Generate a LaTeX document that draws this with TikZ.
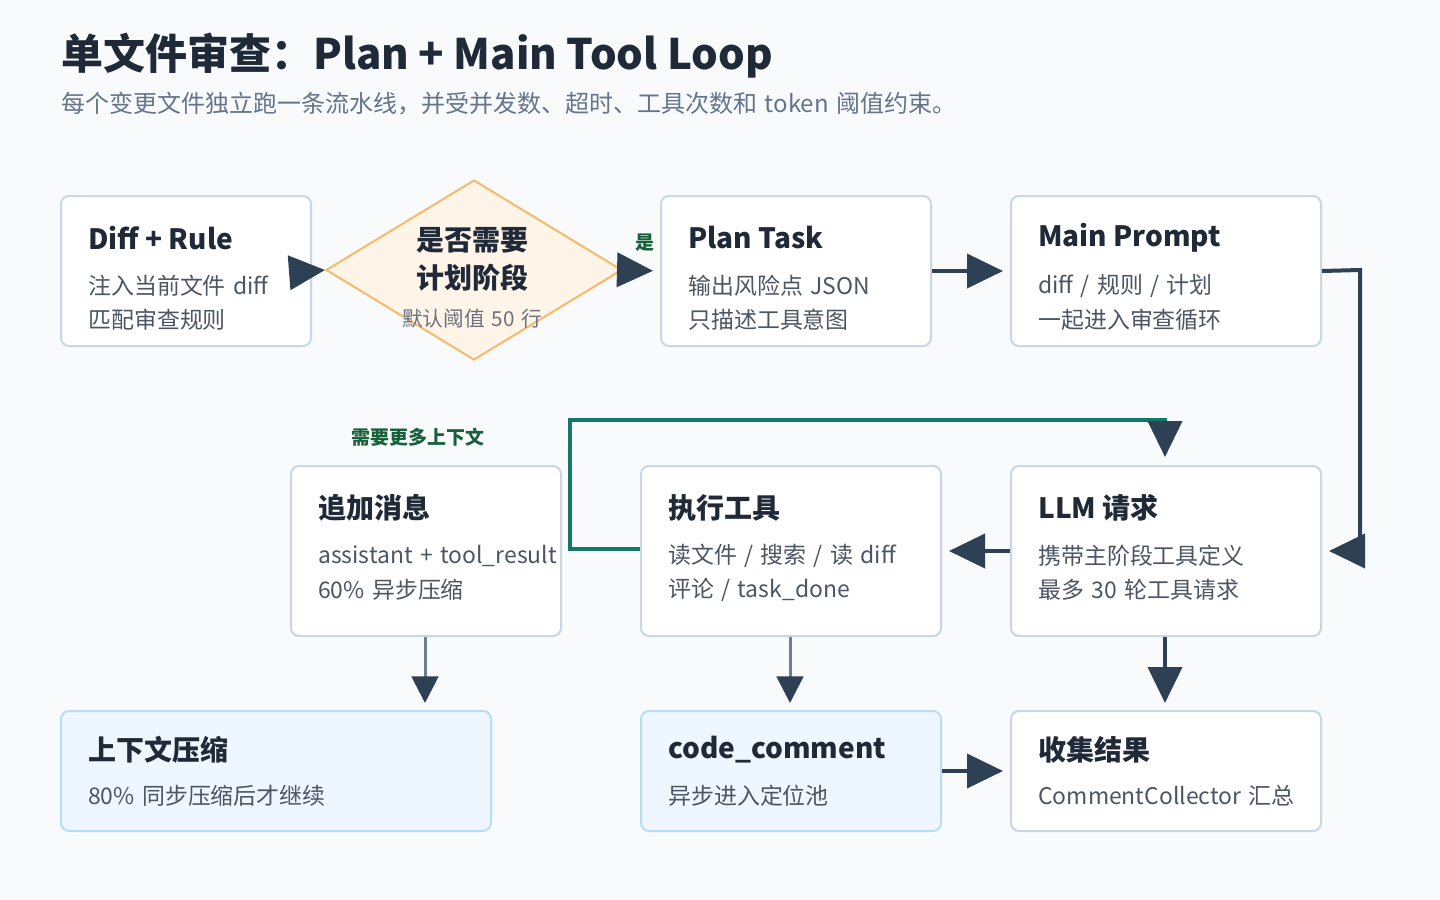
\documentclass[tikz,border=0pt]{standalone}
\usepackage{fontspec}
\setmainfont{Noto Sans CJK SC}
\usetikzlibrary{arrows.meta,shapes.geometric}
\definecolor{bgc}{HTML}{F8FAFC}
\definecolor{ttlc}{HTML}{1F2937}
\definecolor{bodyc}{HTML}{4B5563}
\definecolor{subc}{HTML}{64748B}
\definecolor{bordc}{HTML}{C9D6E4}
\definecolor{bluebord}{HTML}{B9DCF7}
\definecolor{bluefill}{HTML}{EEF6FF}
\definecolor{arrowc}{HTML}{2E4053}
\definecolor{thinc}{HTML}{6E7D92}
\definecolor{loopc}{HTML}{13786A}
\definecolor{lblc}{HTML}{17603A}
\definecolor{dfill}{HTML}{FFF4E8}
\definecolor{dbord}{HTML}{F7B96B}
\definecolor{dsub}{HTML}{6B7280}
\newcommand\widesp{\spaceskip 0.32em\relax}
\begin{document}
\begin{tikzpicture}[x=0.75pt,y=-0.75pt,
  box/.style={draw=bordc, line width=1.5pt, fill=white, rounded corners=6pt, inner sep=0pt, anchor=north west},
  hbox/.style={box, draw=bluebord, fill=bluefill},
  ttl/.style={anchor=west, inner sep=0pt, text=ttlc, font=\fontsize{21pt}{25pt}\selectfont\bfseries},
  bdy/.style={anchor=west, inner sep=0pt, text=bodyc, font=\fontsize{17.2pt}{20pt}\selectfont\widesp},
  flow/.style={draw=arrowc, line width=3pt, -{Triangle[length=27pt,width=25.5pt]}},
  thinflow/.style={draw=thinc, line width=2.25pt, -{Triangle[length=20pt,width=20pt,color=arrowc]}},
  lbl/.style={inner sep=0pt, text=lblc, font=\fontsize{14.2pt}{16pt}\selectfont\bfseries}
]
\fill[bgc] (0,0) rectangle (1440,900);
\useasboundingbox (0,0) rectangle (1440,900);

% title
\node[anchor=west, inner sep=0pt, text=ttlc, font=\fontsize{31.5pt}{36pt}\selectfont\bfseries] (title) at (61,56) {单文件审查：Plan + Main Tool Loop};
\node[anchor=west, inner sep=0pt, text=subc, font=\fontsize{18pt}{20pt}\selectfont\widesp] (subtitle) at (61,104) {每个变更文件独立跑一条流水线，并受并发数、超时、工具次数和 token 阈值约束。};

% row 1
\node[box, minimum width=187.5pt, minimum height=112.5pt] (diff) at (60,195) {};
\node[ttl] (diffT) at (88,238) {Diff + Rule};
\node[bdy] (diffB1) at (88,286) {注入当前文件 diff};
\node[bdy] (diffB2) at (88,320) {匹配审查规则};

\node[diamond, draw=dbord, fill=dfill, line width=1.5pt, inner sep=0pt, minimum width=222pt, minimum height=135pt] (dec) at (474,270) {};
\node[inner sep=0pt, text=ttlc, font=\fontsize{21pt}{25pt}\selectfont\bfseries] (decT1) at (472,240) {是否需要};
\node[inner sep=0pt, text=ttlc, font=\fontsize{21pt}{25pt}\selectfont\bfseries] (decT2) at (472,278) {计划阶段};
\node[inner sep=0pt, text=dsub, font=\fontsize{15.5pt}{18pt}\selectfont\widesp] (decB) at (472,319) {默认阈值 50 行};

\node[box, minimum width=202.5pt, minimum height=112.5pt] (plan) at (660,195) {};
\node[ttl] (planT) at (688,238) {Plan Task};
\node[bdy] (planB1) at (688,286) {输出风险点 JSON};
\node[bdy] (planB2) at (688,320) {只描述工具意图};

\node[box, minimum width=232.5pt, minimum height=112.5pt] (main) at (1010,195) {};
\node[ttl] (mainT) at (1038,238) {Main Prompt};
\node[bdy] (mainB1) at (1038,286) {diff / 规则 / 计划};
\node[bdy] (mainB2) at (1038,320) {一起进入审查循环};

% row 2
\node[box, minimum width=202.5pt, minimum height=127.5pt] (app) at (290,465) {};
\node[ttl] (appT) at (318,508) {追加消息};
\node[bdy] (appB1) at (318,556) {assistant + tool\_result};
\node[bdy] (appB2) at (318,590) {60\% 异步压缩};

\node[box, minimum width=225pt, minimum height=127.5pt] (exec) at (640,465) {};
\node[ttl] (execT) at (668,508) {执行工具};
\node[bdy] (execB1) at (668,556) {读文件 / 搜索 / 读 diff};
\node[bdy] (execB2) at (668,590) {评论 / task\_done};

\node[box, minimum width=232.5pt, minimum height=127.5pt] (llm) at (1010,465) {};
\node[ttl] (llmT) at (1038,508) {LLM 请求};
\node[bdy] (llmB1) at (1038,556) {携带主阶段工具定义};
\node[bdy] (llmB2) at (1038,590) {最多 30 轮工具请求};

% row 3
\node[hbox, minimum width=322.5pt, minimum height=90pt] (ctx) at (60,710) {};
\node[ttl] (ctxT) at (88,750) {上下文压缩};
\node[bdy] (ctxB) at (88,796) {80\% 同步压缩后才继续};

\node[hbox, minimum width=225pt, minimum height=90pt] (code) at (640,710) {};
\node[ttl] (codeT) at (668,750) {code\_comment};
\node[bdy] (codeB) at (668,796) {异步进入定位池};

\node[box, minimum width=232.5pt, minimum height=90pt] (coll) at (1010,710) {};
\node[ttl] (collT) at (1038,750) {收集结果};
\node[bdy] (collB) at (1038,796) {CommentCollector 汇总};

% labels
\node[lbl] (yes) at (645,243) {是};
\node[lbl] (more) at (418,437) {需要更多上下文};

% connectors
\draw[flow] (diff.east) -- (dec.west);
\draw[flow, shorten >=5.25pt] (dec.east) -- (plan.west);
\draw[flow, shorten >=5.25pt] (plan.east) -- (main.west);
\coordinate (mr) at (1360,270);
\draw[flow, shorten >=5.25pt] (main.east) -- (mr) |- (llm.east);
\draw[flow, shorten >=5.25pt] (llm.west) -- (exec.east);
\coordinate (lp1) at (570,549);
\coordinate (lp2) at (570,420);
\coordinate (lp3) at (1165,420);
\draw[flow, draw=loopc, -{Triangle[length=27pt,width=25.5pt,color=arrowc]}, shorten >=6pt] (exec.west |- lp1) -- (lp1) -- (lp2) -- (lp3) -- (lp3 |- llm.north);
\draw[thinflow, shorten >=5.25pt] (app.south -| 425,0) -- (ctx.north -| 425,0);
\draw[thinflow, shorten >=5.25pt] (exec.south -| 790,0) -- (code.north -| 790,0);
\draw[flow, shorten >=5.25pt] (llm.south -| 1165,0) -- (coll.north -| 1165,0);
\draw[flow, shorten >=5.25pt] (code.east) -- (coll.west);
\end{tikzpicture}
\end{document}
